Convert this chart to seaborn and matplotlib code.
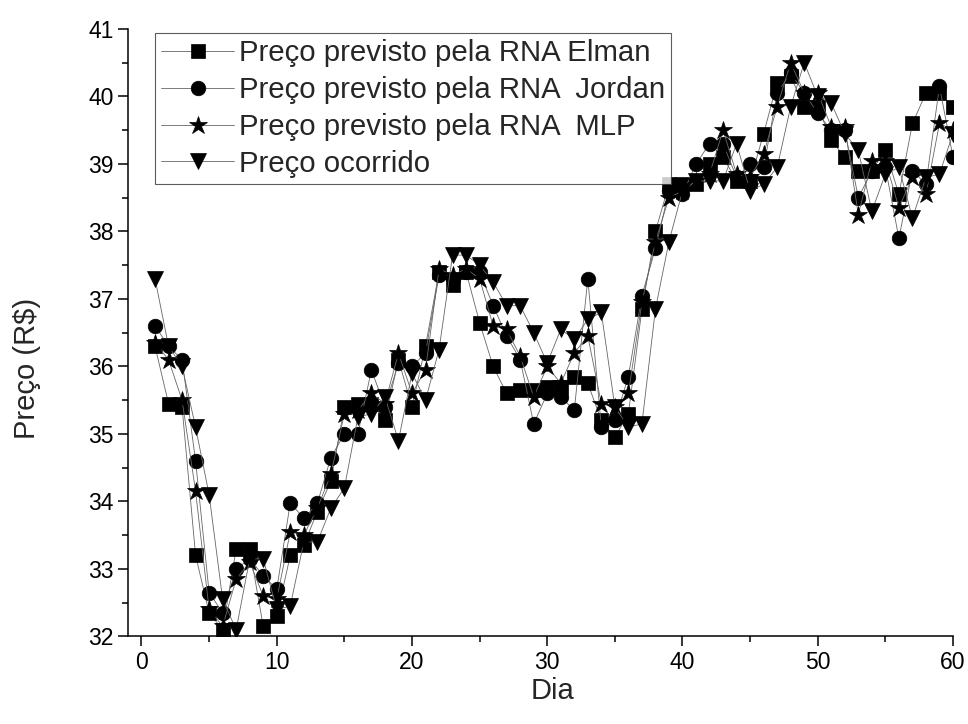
"""Preço previsto pelas RNAs vs preço ocorrido, salvo em out.png."""
import matplotlib
matplotlib.use("Agg")

import matplotlib.pyplot as plt
import numpy as np
import pandas as pd
import seaborn as sns
from matplotlib.ticker import MultipleLocator

dias = np.arange(1, 61)

elman = [36.3, 35.45, 35.4, 33.2, 32.35, 32.1, 33.3, 33.3, 32.15, 32.3,
         33.2, 33.35, 33.85, 34.3, 35.4, 35.45, 35.45, 35.2, 36.1, 35.4,
         36.3, 37.4, 37.2, 37.4, 36.65, 36.0, 35.6, 35.65, 35.65, 35.7,
         35.7, 35.85, 35.75, 35.2, 34.95, 35.3, 36.85, 38.0, 38.7, 38.7,
         38.7, 39.0, 39.1, 38.75, 38.75, 39.45, 40.2, 40.3, 39.85, 39.85,
         39.35, 39.1, 38.9, 38.9, 39.2, 38.55, 39.6, 40.05, 40.05, 39.85]

jordan = [36.6, 36.3, 36.1, 34.6, 32.65, 32.35, 33.0, 33.15, 32.9, 32.7,
          33.98, 33.75, 33.97, 34.65, 35.0, 35.0, 35.95, 35.4, 36.05, 36.0,
          36.2, 37.35, 37.3, 37.4, 37.4, 36.9, 36.45, 36.1, 35.15, 35.6,
          35.55, 35.35, 37.3, 35.1, 35.2, 35.85, 37.05, 37.75, 38.6, 38.55,
          39.0, 39.3, 39.3, 38.8, 39.0, 38.95, 40.05, 40.35, 40.05, 39.75,
          39.5, 39.5, 38.5, 38.9, 38.95, 37.9, 38.9, 38.7, 40.15, 39.1]

mlp = [36.35, 36.1, 35.5, 34.15, 32.4, 32.15, 32.85, 33.1, 32.6, 32.55,
       33.55, 33.5, 33.9, 34.4, 35.3, 35.35, 35.6, 35.45, 36.2, 35.6,
       35.95, 37.45, 37.35, 37.45, 37.3, 36.6, 36.55, 36.15, 35.55, 36.0,
       35.75, 36.2, 36.45, 35.45, 35.4, 35.6, 36.95, 37.85, 38.5, 38.6,
       38.75, 38.85, 39.5, 38.85, 38.8, 39.15, 39.85, 40.5, 40.05, 40.05,
       39.55, 39.55, 38.25, 39.05, 39.05, 38.35, 38.8, 38.55, 39.6, 39.5]

ocorrido = [37.3, 36.3, 36.0, 35.1, 34.1, 32.55, 32.1, 33.15, 33.15, 32.4,
            32.45, 33.4, 33.4, 33.9, 34.2, 35.25, 35.3, 35.55, 34.9, 35.9,
            35.5, 36.25, 37.65, 37.65, 37.5, 37.25, 36.9, 36.9, 36.5, 36.05,
            36.55, 36.4, 36.7, 36.8, 35.4, 35.1, 35.15, 36.85, 37.85, 38.6,
            38.75, 38.75, 38.75, 39.3, 38.6, 38.7, 38.95, 39.85, 40.5, 40.0,
            39.9, 39.45, 39.2, 38.3, 38.85, 38.95, 38.2, 38.8, 38.85, 39.45]

series = [
    ("Preço previsto pela RNA Elman", elman, "s", 9.5),
    ("Preço previsto pela RNA  Jordan", jordan, "o", 10.5),
    ("Preço previsto pela RNA  MLP", mlp, "*", 13.5),
    ("Preço ocorrido", ocorrido, "v", 11.5),
]

sns.set_style("ticks")
plt.rcParams["font.family"] = ["Liberation Sans", "DejaVu Sans"]

fig = plt.figure(figsize=(9.68, 7.24), dpi=100)
ax = fig.add_axes([0.1322, 0.1209, 0.8523, 0.8391])

for label, vals, marker, size in series:
    df = pd.DataFrame({"Dia": dias, "Preco": vals})
    sns.lineplot(data=df, x="Dia", y="Preco", ax=ax, label=label,
                 color="#666666", linewidth=0.6, marker=marker,
                 markersize=size, markerfacecolor="black",
                 markeredgecolor="black", markeredgewidth=0.5)

ax.set_xlim(-1, 60)
ax.set_ylim(32, 41)
ax.xaxis.set_major_locator(MultipleLocator(10))
ax.xaxis.set_minor_locator(MultipleLocator(5))
ax.yaxis.set_major_locator(MultipleLocator(1))
ax.yaxis.set_minor_locator(MultipleLocator(0.5))
ax.tick_params(which="major", direction="out", length=7, width=1.1,
               labelsize=16.5, color="black", labelcolor="black")
ax.tick_params(which="minor", direction="out", length=4, width=1.1,
               color="black")
for side in ("left", "bottom"):
    ax.spines[side].set_linewidth(1.1)
    ax.spines[side].set_color("black")
sns.despine(ax=ax)

ax.set_xlabel("Dia", fontsize=21)
ax.set_ylabel("Preço (R$)", fontsize=21)
ax.xaxis.set_label_coords(0.514, -0.066)
ax.yaxis.set_label_coords(-0.105, 0.442)

leg = ax.legend(loc="upper left", bbox_to_anchor=(0.160, 0.954),
                bbox_transform=fig.transFigure, borderaxespad=0,
                fontsize=21.2, frameon=True, fancybox=False,
                handlelength=2.5, handletextpad=0.15, labelspacing=0.3,
                borderpad=0.2)
leg.get_frame().set_edgecolor("#333333")
leg.get_frame().set_linewidth(0.8)

fig.savefig("out.png", dpi=100)
plt.close(fig)
